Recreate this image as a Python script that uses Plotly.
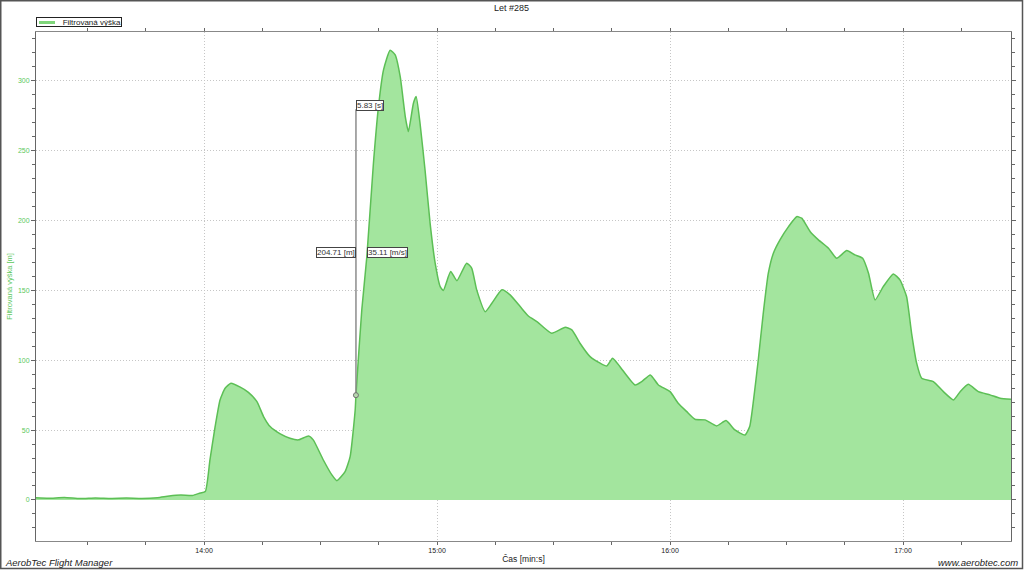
import plotly.graph_objects as go

# time in seconds (14:00 -> 840 s)
t_sec = [796.7, 800, 804, 808, 812, 816, 820, 824, 828, 831, 834, 837, 839, 840.3,
         841.5, 842.8, 844.1, 845.4, 846.9, 849.3, 851.4, 853.6, 855.3, 857.0, 859.6,
         862.1, 864.3, 866.9, 868.1, 870.7, 872.9, 874.2, 876.3, 877.6, 878.9, 879.1,
         880.6, 881.9, 883.6, 884.9, 886.2, 887.9, 889.2, 890.5, 891.8, 892.6, 893.9,
         894.6, 895.6, 896.9, 898.2, 899.5, 900.8, 901.6, 903.5, 905.1, 907.6, 908.9,
         910.2, 912.4, 914.1, 916.7, 918.8, 921.4, 923.5, 925.7, 929.5, 933.0, 934.7,
         936.8, 939.4, 942.0, 943.7, 945.2, 947.1, 951.0, 952.7, 954.9, 957.0, 960.0,
         962.1, 964.3, 966.4, 969.0, 972.0, 974.4, 976.7, 979.3, 980.5, 981.5, 982.7,
         984.0, 985.3, 986.6, 988.3, 990.5, 992.6, 993.9, 996.1, 998.2, 1000.8, 1002.9,
         1005.5, 1007.6, 1009.6, 1011.1, 1012.8, 1014.9, 1017.5, 1019.2, 1020.9, 1022.2,
         1023.5, 1024.8, 1027.8, 1030.4, 1033.0, 1034.7, 1036.8, 1039.4, 1042.4, 1045.0,
         1047.8]
alt_m = [1.5, 1.2, 1.8, 1.0, 1.4, 1.1, 1.3, 1.0, 1.6, 2.8, 3.5, 3.2, 5.0, 6.0,
         28.6, 52, 71.6, 80, 83.5, 80.7, 77, 70.4, 59.7, 52.5, 47.3,
         44.2, 43, 45.8, 43, 28.6, 17.9, 13.8, 20.3, 31, 64.4, 75,
         136, 174, 241, 281.6, 307.9, 322, 318.6, 303, 274.5, 263.7, 284,
         288.8, 269.7, 236, 198, 169.5, 152.7, 150, 163.5, 157, 169.5, 166,
         150.4, 134.8, 140.8, 150.4, 146.8, 138.4, 131.7, 127.7, 119.3, 123.6, 121.7,
         112.2, 102.6, 97.9, 95.9, 101.4, 95.4, 82.3, 84.7, 89.5, 82.3, 77.5,
         69.2, 63.2, 57.8, 57.3, 53, 56.8, 50.1, 46.5, 52.5, 71.6, 100,
         133.7, 162.3, 176.6, 186.2, 195.7, 202.8, 201.7, 192, 186.2, 180.2, 173,
         178.5, 175.4, 173, 162.3, 143.2, 152.7, 161.8, 157.5, 145.6, 119.3,
         97.9, 87.1, 84.7, 77.5, 71.6, 77.5, 82.8, 77.5, 75.2, 72.8,
         72.1]

x_tickvals = [840, 900, 960, 1020]
x_ticktext = ["14:00", "15:00", "16:00", "17:00"]
y_tickvals = [0, 50, 100, 150, 200, 250, 300]

series_name = "Filtrovaná výška"
chart_title = "Let #285"

# measurement
meas_t0 = 879.1
meas_h0 = 75.0
meas_dh = 204.71
meas_dt = 5.83
meas_v = 35.11

LINE = "#5cbf55"
FILL = "rgba(163,229,158,1)"
GREEN_TXT = "#5cc85c"
FONT = "Liberation Sans, Arial, sans-serif"
GRID = "#c6c6c6"

# plot area in pixels: x 36..1011, y 32..541
def px(xp):
    return (xp - 36) / 975.0

def py(yp):
    return (541 - yp) / 509.0

fig = go.Figure()
fig.add_trace(go.Scatter(
    x=t_sec, y=alt_m, mode="lines", name=series_name,
    line=dict(color=LINE, width=1.5, shape="spline", smoothing=0.5),
    fill="tozeroy", fillcolor=FILL, showlegend=False))

fig.add_trace(go.Scatter(
    x=[meas_t0, meas_t0], y=[meas_h0, meas_h0 + meas_dh], mode="lines",
    line=dict(color="#8c8c8c", width=1.5), showlegend=False, hoverinfo="skip"))
fig.add_trace(go.Scatter(
    x=[meas_t0], y=[meas_h0], mode="markers",
    marker=dict(symbol="circle", size=5, color="#b8d8b0", line=dict(color="#707070", width=1)),
    showlegend=False, hoverinfo="skip"))

ann_font = dict(family=FONT, size=8, color="#333")
fig.add_annotation(x=meas_t0, y=meas_h0 + meas_dh, text=f"{meas_dt:.2f} [s]",
                   xanchor="left", yanchor="middle", yshift=4, showarrow=False,
                   bgcolor="white", bordercolor="#444", borderwidth=1, borderpad=0, font=ann_font)
fig.add_annotation(x=meas_t0, y=meas_h0 + meas_dh / 2, text=f"{meas_dh:.2f} [m]",
                   xanchor="right", yanchor="middle", showarrow=False,
                   bgcolor="white", bordercolor="#444", borderwidth=1, borderpad=0, font=ann_font)
fig.add_annotation(x=meas_t0 + meas_dt / 2, y=meas_h0 + meas_dh / 2, text=f"{meas_v:.2f} [m/s]",
                   xanchor="left", yanchor="middle", showarrow=False,
                   bgcolor="white", bordercolor="#444", borderwidth=1, borderpad=0, font=ann_font)

# legend (custom, compact)
fig.add_annotation(xref="paper", yref="paper", x=px(36), y=py(22.5), text=series_name,
                   xanchor="left", yanchor="middle", showarrow=False, width=84, height=8,
                   align="right", bgcolor="rgba(0,0,0,0)", bordercolor="#222", borderwidth=1, borderpad=0,
                   font=dict(family=FONT, size=8, color="#222"))
fig.add_shape(type="line", xref="paper", yref="paper", x0=px(39), x1=px(55), y0=py(22.5), y1=py(22.5),
              line=dict(color="#7fd67a", width=3), layer="above")

# title
fig.add_annotation(xref="paper", yref="paper", x=px(511), y=py(7.5), text=chart_title,
                   xanchor="center", yanchor="middle", showarrow=False,
                   font=dict(family=FONT, size=9, color="#222"))

# footer texts
fig.add_annotation(xref="paper", yref="paper", x=px(3), y=py(562), text="<i>AerobTec Flight Manager</i>",
                   xanchor="left", yanchor="middle", showarrow=False,
                   font=dict(family=FONT, size=9.5, color="#222"))
fig.add_annotation(xref="paper", yref="paper", x=px(1020), y=py(562), text="<i>www.aerobtec.com</i>",
                   xanchor="right", yanchor="middle", showarrow=False,
                   font=dict(family=FONT, size=9.5, color="#222"))

# outer frame
fig.add_shape(type="rect", xref="paper", yref="paper",
              x0=px(0.75), x1=px(1022.5), y0=py(568.5), y1=py(0.75),
              line=dict(color="#555", width=1.5), fillcolor="rgba(0,0,0,0)", layer="above")

fig.update_layout(
    width=1024, height=570,
    margin=dict(l=36, r=13, t=32, b=29, autoexpand=False),
    paper_bgcolor="white", plot_bgcolor="white",
    showlegend=False,
    xaxis=dict(range=[796.7, 1047.8], tickmode="array", tickvals=x_tickvals, ticktext=x_ticktext,
               automargin=False,
               showgrid=True, gridcolor=GRID, griddash="1px,2px", gridwidth=1,
               zeroline=False, showline=True, linecolor="#888", linewidth=1, mirror="ticks",
               ticks="outside", ticklen=3, tickcolor="#666",
               minor=dict(tick0=840, dtick=15, ticks="outside", ticklen=3, tickcolor="#666", showgrid=False),
               tickfont=dict(family=FONT, size=7, color="#222"),
               title=dict(text="Čas [min:s]", font=dict(family=FONT, size=8.5, color="#222"), standoff=2)),
    yaxis=dict(range=[-29.4, 335], tickmode="array", tickvals=y_tickvals,
               automargin=False,
               showgrid=True, gridcolor=GRID, griddash="1px,2px", gridwidth=1,
               zeroline=False, showline=True, linecolor="#666", linewidth=1, mirror="ticks",
               ticks="outside", ticklen=4, tickcolor="#666",
               minor=dict(tick0=0, dtick=10, ticks="outside", ticklen=3, tickcolor="#666", showgrid=False),
               tickfont=dict(family=FONT, size=7, color=GREEN_TXT),
               title=dict(text="Filtrovaná výška [m]", font=dict(family=FONT, size=7.5, color=GREEN_TXT), standoff=4)),
)

fig.write_html("out.html", config={"displayModeBar": False},
               post_script="document.body.style.margin='0';document.body.style.overflow='hidden';")
